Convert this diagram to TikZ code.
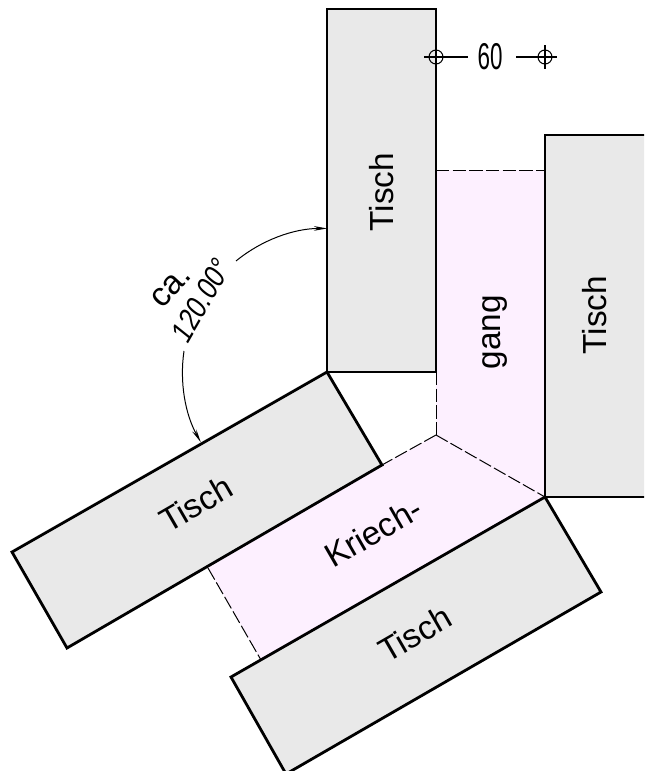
\documentclass[tikz,border=0pt]{standalone}
\usepackage{fontspec}
\setmainfont{Liberation Sans}
\usetikzlibrary{arrows.meta}
\definecolor{tablegrey}{HTML}{E9E9E9}
\definecolor{gangpink}{HTML}{FDF0FF}
\tikzset{
  tablebox/.style={draw=black,fill=tablegrey,line width=2.1pt,line join=miter},
  gangarea/.style={fill=gangpink,draw=none},
  gangedge/.style={line width=0.75pt,dash pattern=on 10pt off 2.5pt},
  lbl/.style={inner sep=0pt,font=\fontsize{25}{25}\selectfont},
  dimline/.style={line width=0.8pt},
  dimarrow/.style={line width=0.75pt,-{Stealth[length=10pt,width=3.5pt]}},
  dimtext/.style={inner sep=0pt},
}
\begin{document}
\begin{tikzpicture}[x=0.75pt,y=0.75pt,yscale=-1]
\useasboundingbox (0,0) rectangle (644,771);
\clip (0,0) rectangle (644,771);
% corners
\coordinate (c) at (327,372);
\coordinate (gA) at (436,170);
\coordinate (gB) at (545,170);
\coordinate (gC) at (545,497);
\coordinate (gD) at (261,660);
\coordinate (gE) at (208,568);
\coordinate (gF) at (382,465);
\coordinate (gG) at (436,435);
\coordinate (gH) at (436,372);
\coordinate (m1) at (436,57);
\coordinate (m2) at (545,57);
% crawl area
\fill[gangarea] (gA) -- (gB) -- (gC) -- (gD) -- (gE) -- (gF) -- (gG) -- cycle;
% tables
\draw[tablebox] (327,9) -- (436,9) -- (436,372) -- (c) -- cycle;
\draw[tablebox] (650,135) -- (545,135) -- (gC) -- (650,497);
\draw[tablebox] (c) -- (gF) -- (67,648) -- (12,552) -- cycle;
\draw[tablebox] (gC) -- (601,592) -- (286,774) -- (231,677) -- cycle;
% dashed edges
\draw[gangedge] (gA) -- (gB);
\draw[gangedge] (gH) -- (gG);
\draw[gangedge] (gG) -- (gF);
\draw[gangedge] (gG) -- (gC);
\draw[gangedge] (gE) -- (gD);
% labels
\node[lbl,rotate=90] (t1) at (382,192) {Tisch};
\node[lbl,rotate=90] (t2) at (595,315) {Tisch};
\node[lbl,rotate=30] (t3) at (196,504) {Tisch};
\node[lbl,rotate=30] (t4) at (415,634) {Tisch};
\node[lbl,rotate=90] (g1) at (495,332) {gang};
\node[lbl,rotate=30] (k1) at (373,532) {Kriech-};
% measure
\draw[dimline] (424,57) -- (468,57);
\draw[dimline] (516,57) -- (557,57);
\draw[dimline] (m1) circle[radius=7];
\draw[dimline] (m2) circle[radius=7];
\draw[dimline] (m2) ++(0,-12) -- ++(0,24);
\node[dimtext] (n60) at (490,57) {\fontsize{28}{28}\selectfont\scalebox{.6}[1]{60}};
% angle
\draw[dimarrow] (236,261) arc[start angle=-129.3,end angle=-90,radius=144];
\draw[dimarrow] (184,351) arc[start angle=188.35,end angle=150.8,radius=144];
\node[dimtext,rotate=47] (ca) at (171,287) {\fontsize{25}{25}\selectfont ca.};
\node[dimtext,rotate=-60,yscale=-1,xslant=.15,transform shape] (ang) at (201,300) {\fontsize{23}{23}\selectfont\scalebox{.84}[1]{120.00°}};
\end{tikzpicture}
\end{document}
